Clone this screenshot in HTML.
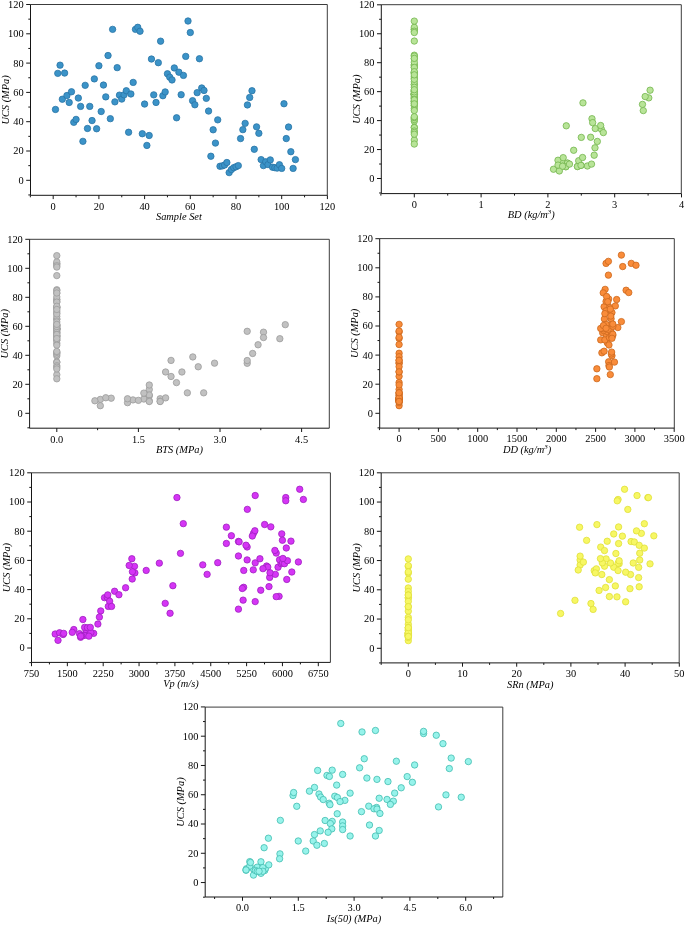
<!DOCTYPE html>
<html><head><meta charset="utf-8"><title>UCS scatter plots</title>
<style>
html,body{margin:0;padding:0;background:#fff;}
svg{display:block;will-change:transform;filter:grayscale(0);}
text{font-family:"Liberation Serif",serif;fill:#000;}
.t{font-size:10.4px;}
.l{font-size:10.4px;font-style:italic;}
</style></head>
<body>
<svg width="685" height="925" viewBox="0 0 685 925">
<rect width="685" height="925" fill="#fff"/>
<g>
<path d="M30.50 4.50 H327.30 V195.30" fill="none" stroke="#3c3c3c" stroke-width="1"/>
<g fill="#3b93c8" stroke="#2a75a6" stroke-width="0.8">
<circle cx="55.48" cy="109.47" r="3.20"/>
<circle cx="57.77" cy="73.36" r="3.20"/>
<circle cx="60.06" cy="65.17" r="3.20"/>
<circle cx="62.34" cy="99.23" r="3.20"/>
<circle cx="64.62" cy="73.06" r="3.20"/>
<circle cx="66.91" cy="95.56" r="3.20"/>
<circle cx="69.20" cy="102.45" r="3.20"/>
<circle cx="71.48" cy="91.77" r="3.20"/>
<circle cx="73.77" cy="122.33" r="3.20"/>
<circle cx="76.05" cy="119.40" r="3.20"/>
<circle cx="78.34" cy="98.05" r="3.20"/>
<circle cx="80.62" cy="106.39" r="3.20"/>
<circle cx="82.91" cy="141.33" r="3.20"/>
<circle cx="85.19" cy="85.34" r="3.20"/>
<circle cx="87.48" cy="128.47" r="3.20"/>
<circle cx="89.76" cy="106.39" r="3.20"/>
<circle cx="92.05" cy="120.57" r="3.20"/>
<circle cx="94.33" cy="78.91" r="3.20"/>
<circle cx="96.62" cy="128.76" r="3.20"/>
<circle cx="98.90" cy="65.75" r="3.20"/>
<circle cx="101.19" cy="111.50" r="3.20"/>
<circle cx="103.47" cy="85.05" r="3.20"/>
<circle cx="105.76" cy="96.88" r="3.20"/>
<circle cx="108.04" cy="55.51" r="3.20"/>
<circle cx="110.33" cy="118.67" r="3.20"/>
<circle cx="112.61" cy="29.35" r="3.20"/>
<circle cx="114.90" cy="101.86" r="3.20"/>
<circle cx="117.18" cy="67.64" r="3.20"/>
<circle cx="119.47" cy="95.14" r="3.20"/>
<circle cx="121.75" cy="99.08" r="3.20"/>
<circle cx="124.04" cy="94.85" r="3.20"/>
<circle cx="126.32" cy="90.74" r="3.20"/>
<circle cx="128.61" cy="132.26" r="3.20"/>
<circle cx="130.89" cy="93.97" r="3.20"/>
<circle cx="133.18" cy="82.41" r="3.20"/>
<circle cx="135.46" cy="29.35" r="3.20"/>
<circle cx="137.75" cy="27.30" r="3.20"/>
<circle cx="140.03" cy="31.24" r="3.20"/>
<circle cx="142.31" cy="133.73" r="3.20"/>
<circle cx="144.60" cy="104.05" r="3.20"/>
<circle cx="146.88" cy="145.43" r="3.20"/>
<circle cx="149.17" cy="135.49" r="3.20"/>
<circle cx="151.46" cy="59.03" r="3.20"/>
<circle cx="153.74" cy="94.85" r="3.20"/>
<circle cx="156.03" cy="102.45" r="3.20"/>
<circle cx="158.31" cy="62.68" r="3.20"/>
<circle cx="160.60" cy="41.18" r="3.20"/>
<circle cx="162.88" cy="95.71" r="3.20"/>
<circle cx="165.17" cy="91.92" r="3.20"/>
<circle cx="167.45" cy="73.78" r="3.20"/>
<circle cx="169.74" cy="77.15" r="3.20"/>
<circle cx="172.02" cy="79.93" r="3.20"/>
<circle cx="174.31" cy="67.93" r="3.20"/>
<circle cx="176.59" cy="117.79" r="3.20"/>
<circle cx="178.88" cy="72.18" r="3.20"/>
<circle cx="181.16" cy="94.70" r="3.20"/>
<circle cx="183.44" cy="75.39" r="3.20"/>
<circle cx="185.73" cy="56.39" r="3.20"/>
<circle cx="188.01" cy="21.01" r="3.20"/>
<circle cx="190.30" cy="32.55" r="3.20"/>
<circle cx="192.59" cy="100.69" r="3.20"/>
<circle cx="194.87" cy="104.78" r="3.20"/>
<circle cx="197.16" cy="92.65" r="3.20"/>
<circle cx="199.44" cy="58.73" r="3.20"/>
<circle cx="201.73" cy="87.98" r="3.20"/>
<circle cx="204.01" cy="90.45" r="3.20"/>
<circle cx="206.30" cy="98.35" r="3.20"/>
<circle cx="208.58" cy="111.06" r="3.20"/>
<circle cx="210.87" cy="156.24" r="3.20"/>
<circle cx="213.15" cy="129.79" r="3.20"/>
<circle cx="215.44" cy="143.09" r="3.20"/>
<circle cx="217.72" cy="119.84" r="3.20"/>
<circle cx="220.00" cy="166.27" r="3.20"/>
<circle cx="222.29" cy="165.90" r="3.20"/>
<circle cx="224.57" cy="165.02" r="3.20"/>
<circle cx="226.86" cy="162.53" r="3.20"/>
<circle cx="229.15" cy="172.62" r="3.20"/>
<circle cx="231.43" cy="169.55" r="3.20"/>
<circle cx="233.72" cy="167.66" r="3.20"/>
<circle cx="236.00" cy="166.78" r="3.20"/>
<circle cx="238.29" cy="165.61" r="3.20"/>
<circle cx="240.57" cy="138.56" r="3.20"/>
<circle cx="242.86" cy="129.64" r="3.20"/>
<circle cx="245.14" cy="123.36" r="3.20"/>
<circle cx="247.43" cy="104.93" r="3.20"/>
<circle cx="249.71" cy="97.47" r="3.20"/>
<circle cx="252.00" cy="90.74" r="3.20"/>
<circle cx="254.28" cy="149.30" r="3.20"/>
<circle cx="256.56" cy="126.86" r="3.20"/>
<circle cx="258.85" cy="133.29" r="3.20"/>
<circle cx="261.13" cy="159.61" r="3.20"/>
<circle cx="263.42" cy="165.61" r="3.20"/>
<circle cx="265.71" cy="161.80" r="3.20"/>
<circle cx="267.99" cy="164.58" r="3.20"/>
<circle cx="270.28" cy="159.91" r="3.20"/>
<circle cx="272.56" cy="167.22" r="3.20"/>
<circle cx="274.85" cy="167.66" r="3.20"/>
<circle cx="277.13" cy="168.10" r="3.20"/>
<circle cx="279.42" cy="164.73" r="3.20"/>
<circle cx="281.70" cy="168.39" r="3.20"/>
<circle cx="283.99" cy="103.75" r="3.20"/>
<circle cx="286.27" cy="138.56" r="3.20"/>
<circle cx="288.56" cy="127.00" r="3.20"/>
<circle cx="290.84" cy="151.72" r="3.20"/>
<circle cx="293.12" cy="168.39" r="3.20"/>
<circle cx="295.41" cy="159.61" r="3.20"/>
</g>
<path d="M30.50 4.50 V195.30 H327.30 M30.50 180.30 h-4.3 M30.50 151.00 h-4.3 M30.50 121.70 h-4.3 M30.50 92.40 h-4.3 M30.50 63.10 h-4.3 M30.50 33.80 h-4.3 M30.50 4.50 h-4.3 M30.50 194.95 h-2.2 M30.50 165.65 h-2.2 M30.50 136.35 h-2.2 M30.50 107.05 h-2.2 M30.50 77.75 h-2.2 M30.50 48.45 h-2.2 M30.50 19.15 h-2.2 M53.20 195.30 v3.8 M98.90 195.30 v3.8 M144.60 195.30 v3.8 M190.30 195.30 v3.8 M236.00 195.30 v3.8 M281.70 195.30 v3.8 M327.40 195.30 v3.8 M30.35 195.30 v2 M76.05 195.30 v2 M121.75 195.30 v2 M167.45 195.30 v2 M213.15 195.30 v2 M258.85 195.30 v2 M304.55 195.30 v2" fill="none" stroke="#161616" stroke-width="1"/>
<g class="t" text-anchor="end">
<text x="23.70" y="183.70">0</text>
<text x="23.70" y="154.40">20</text>
<text x="23.70" y="125.10">40</text>
<text x="23.70" y="95.80">60</text>
<text x="23.70" y="66.50">80</text>
<text x="23.70" y="37.20">100</text>
<text x="23.70" y="7.90">120</text>
</g>
<g class="t" text-anchor="middle">
<text x="53.20" y="209.60">0</text>
<text x="98.90" y="209.60">20</text>
<text x="144.60" y="209.60">40</text>
<text x="190.30" y="209.60">60</text>
<text x="236.00" y="209.60">80</text>
<text x="281.70" y="209.60">100</text>
<text x="327.40" y="209.60">120</text>
</g>
<text class="l" text-anchor="middle" x="178.90" y="219.90">Sample Set</text>
<text class="l" text-anchor="middle" transform="translate(9.20 99.90) rotate(-90)">UCS (MPa)</text>
</g>
<g>
<path d="M381.30 4.70 H681.30 V193.60" fill="none" stroke="#3c3c3c" stroke-width="1"/>
<g fill="#b8e498" stroke="#74b54e" stroke-width="0.8">
<circle cx="414.30" cy="108.51" r="3.20"/>
<circle cx="414.30" cy="72.83" r="3.20"/>
<circle cx="414.30" cy="64.74" r="3.20"/>
<circle cx="414.30" cy="98.40" r="3.20"/>
<circle cx="414.30" cy="72.54" r="3.20"/>
<circle cx="414.30" cy="94.78" r="3.20"/>
<circle cx="414.30" cy="101.58" r="3.20"/>
<circle cx="414.30" cy="91.03" r="3.20"/>
<circle cx="414.30" cy="121.22" r="3.20"/>
<circle cx="414.30" cy="118.33" r="3.20"/>
<circle cx="414.30" cy="97.24" r="3.20"/>
<circle cx="414.30" cy="105.47" r="3.20"/>
<circle cx="414.30" cy="140.00" r="3.20"/>
<circle cx="414.30" cy="84.67" r="3.20"/>
<circle cx="414.30" cy="127.29" r="3.20"/>
<circle cx="414.30" cy="105.47" r="3.20"/>
<circle cx="414.30" cy="119.49" r="3.20"/>
<circle cx="414.30" cy="78.32" r="3.20"/>
<circle cx="414.30" cy="127.58" r="3.20"/>
<circle cx="414.30" cy="65.32" r="3.20"/>
<circle cx="414.30" cy="110.53" r="3.20"/>
<circle cx="414.30" cy="84.38" r="3.20"/>
<circle cx="414.30" cy="96.08" r="3.20"/>
<circle cx="414.30" cy="55.20" r="3.20"/>
<circle cx="414.30" cy="117.60" r="3.20"/>
<circle cx="414.30" cy="29.35" r="3.20"/>
<circle cx="414.30" cy="101.00" r="3.20"/>
<circle cx="414.30" cy="67.19" r="3.20"/>
<circle cx="414.30" cy="94.36" r="3.20"/>
<circle cx="414.30" cy="98.25" r="3.20"/>
<circle cx="414.30" cy="94.07" r="3.20"/>
<circle cx="414.30" cy="90.01" r="3.20"/>
<circle cx="414.30" cy="131.04" r="3.20"/>
<circle cx="414.30" cy="93.20" r="3.20"/>
<circle cx="414.30" cy="81.78" r="3.20"/>
<circle cx="414.30" cy="29.35" r="3.20"/>
<circle cx="414.30" cy="27.32" r="3.20"/>
<circle cx="414.30" cy="31.22" r="3.20"/>
<circle cx="414.30" cy="132.48" r="3.20"/>
<circle cx="414.30" cy="103.16" r="3.20"/>
<circle cx="414.30" cy="144.05" r="3.20"/>
<circle cx="414.30" cy="134.22" r="3.20"/>
<circle cx="414.30" cy="58.68" r="3.20"/>
<circle cx="414.30" cy="94.07" r="3.20"/>
<circle cx="414.30" cy="101.58" r="3.20"/>
<circle cx="414.30" cy="62.28" r="3.20"/>
<circle cx="414.30" cy="41.05" r="3.20"/>
<circle cx="414.30" cy="94.92" r="3.20"/>
<circle cx="414.30" cy="91.17" r="3.20"/>
<circle cx="414.30" cy="73.25" r="3.20"/>
<circle cx="414.30" cy="76.58" r="3.20"/>
<circle cx="414.30" cy="79.33" r="3.20"/>
<circle cx="414.30" cy="67.48" r="3.20"/>
<circle cx="414.30" cy="116.74" r="3.20"/>
<circle cx="414.30" cy="71.67" r="3.20"/>
<circle cx="414.30" cy="93.92" r="3.20"/>
<circle cx="414.30" cy="74.84" r="3.20"/>
<circle cx="414.30" cy="56.07" r="3.20"/>
<circle cx="414.30" cy="21.11" r="3.20"/>
<circle cx="414.30" cy="32.52" r="3.20"/>
<circle cx="414.30" cy="99.84" r="3.20"/>
<circle cx="414.30" cy="103.88" r="3.20"/>
<circle cx="414.30" cy="91.90" r="3.20"/>
<circle cx="414.30" cy="58.39" r="3.20"/>
<circle cx="414.30" cy="87.28" r="3.20"/>
<circle cx="414.30" cy="89.72" r="3.20"/>
<circle cx="648.77" cy="97.87" r="3.20"/>
<circle cx="643.29" cy="110.61" r="3.20"/>
<circle cx="594.19" cy="155.20" r="3.20"/>
<circle cx="595.26" cy="128.56" r="3.20"/>
<circle cx="597.33" cy="141.44" r="3.20"/>
<circle cx="591.99" cy="118.72" r="3.20"/>
<circle cx="562.60" cy="161.78" r="3.20"/>
<circle cx="562.60" cy="166.20" r="3.20"/>
<circle cx="580.97" cy="165.36" r="3.20"/>
<circle cx="577.49" cy="166.49" r="3.20"/>
<circle cx="565.87" cy="166.70" r="3.20"/>
<circle cx="567.47" cy="163.16" r="3.20"/>
<circle cx="557.99" cy="160.26" r="3.20"/>
<circle cx="567.47" cy="163.16" r="3.20"/>
<circle cx="565.87" cy="166.70" r="3.20"/>
<circle cx="577.49" cy="166.49" r="3.20"/>
<circle cx="578.69" cy="160.75" r="3.20"/>
<circle cx="587.38" cy="165.99" r="3.20"/>
<circle cx="553.51" cy="169.24" r="3.20"/>
<circle cx="559.32" cy="170.97" r="3.20"/>
<circle cx="581.30" cy="137.39" r="3.20"/>
<circle cx="601.34" cy="129.14" r="3.20"/>
<circle cx="592.66" cy="122.63" r="3.20"/>
<circle cx="642.49" cy="104.39" r="3.20"/>
<circle cx="645.16" cy="96.57" r="3.20"/>
<circle cx="650.10" cy="90.20" r="3.20"/>
<circle cx="594.99" cy="147.81" r="3.20"/>
<circle cx="566.27" cy="125.81" r="3.20"/>
<circle cx="603.34" cy="132.61" r="3.20"/>
<circle cx="557.99" cy="165.10" r="3.20"/>
<circle cx="580.97" cy="165.36" r="3.20"/>
<circle cx="591.52" cy="164.10" r="3.20"/>
<circle cx="562.60" cy="166.20" r="3.20"/>
<circle cx="569.48" cy="164.10" r="3.20"/>
<circle cx="563.20" cy="157.66" r="3.20"/>
<circle cx="582.57" cy="157.51" r="3.20"/>
<circle cx="582.97" cy="102.87" r="3.20"/>
<circle cx="590.65" cy="137.25" r="3.20"/>
<circle cx="600.67" cy="125.52" r="3.20"/>
<circle cx="573.68" cy="150.27" r="3.20"/>
</g>
<path d="M381.30 4.70 V193.60 H681.30 M381.30 178.50 h-4.3 M381.30 149.55 h-4.3 M381.30 120.60 h-4.3 M381.30 91.65 h-4.3 M381.30 62.70 h-4.3 M381.30 33.75 h-4.3 M381.30 4.80 h-4.3 M381.30 192.97 h-2.2 M381.30 164.03 h-2.2 M381.30 135.07 h-2.2 M381.30 106.12 h-2.2 M381.30 77.17 h-2.2 M381.30 48.22 h-2.2 M381.30 19.28 h-2.2 M414.30 193.60 v3.8 M481.10 193.60 v3.8 M547.90 193.60 v3.8 M614.70 193.60 v3.8 M681.50 193.60 v3.8 M380.90 193.60 v2 M447.70 193.60 v2 M514.50 193.60 v2 M581.30 193.60 v2 M648.10 193.60 v2" fill="none" stroke="#161616" stroke-width="1"/>
<g class="t" text-anchor="end">
<text x="374.50" y="181.90">0</text>
<text x="374.50" y="152.95">20</text>
<text x="374.50" y="124.00">40</text>
<text x="374.50" y="95.05">60</text>
<text x="374.50" y="66.10">80</text>
<text x="374.50" y="37.15">100</text>
<text x="374.50" y="8.20">120</text>
</g>
<g class="t" text-anchor="middle">
<text x="414.30" y="207.90">0</text>
<text x="481.10" y="207.90">1</text>
<text x="547.90" y="207.90">2</text>
<text x="614.70" y="207.90">3</text>
<text x="681.50" y="207.90">4</text>
</g>
<text class="l" text-anchor="middle" x="531.30" y="218.20">BD (kg/m<tspan dy='-3.8' font-size='7'>3</tspan><tspan dy='3.8'>)</tspan></text>
<text class="l" text-anchor="middle" transform="translate(360.00 99.15) rotate(-90)">UCS (MPa)</text>
</g>
<g>
<path d="M29.60 239.30 H329.30 V428.20" fill="none" stroke="#3c3c3c" stroke-width="1"/>
<g fill="#c1c1c1" stroke="#9c9c9c" stroke-width="0.8">
<circle cx="56.80" cy="343.19" r="3.20"/>
<circle cx="56.80" cy="307.45" r="3.20"/>
<circle cx="56.80" cy="299.34" r="3.20"/>
<circle cx="56.80" cy="333.06" r="3.20"/>
<circle cx="56.80" cy="307.16" r="3.20"/>
<circle cx="56.80" cy="329.43" r="3.20"/>
<circle cx="56.80" cy="336.25" r="3.20"/>
<circle cx="56.80" cy="325.68" r="3.20"/>
<circle cx="56.80" cy="355.92" r="3.20"/>
<circle cx="56.80" cy="353.02" r="3.20"/>
<circle cx="56.80" cy="331.90" r="3.20"/>
<circle cx="56.80" cy="340.15" r="3.20"/>
<circle cx="56.80" cy="374.73" r="3.20"/>
<circle cx="56.80" cy="319.31" r="3.20"/>
<circle cx="56.80" cy="362.00" r="3.20"/>
<circle cx="56.80" cy="340.15" r="3.20"/>
<circle cx="56.80" cy="354.18" r="3.20"/>
<circle cx="56.80" cy="312.95" r="3.20"/>
<circle cx="56.80" cy="362.29" r="3.20"/>
<circle cx="56.80" cy="299.92" r="3.20"/>
<circle cx="56.80" cy="345.21" r="3.20"/>
<circle cx="56.80" cy="319.02" r="3.20"/>
<circle cx="56.80" cy="330.74" r="3.20"/>
<circle cx="56.80" cy="289.79" r="3.20"/>
<circle cx="56.80" cy="352.30" r="3.20"/>
<circle cx="56.80" cy="263.89" r="3.20"/>
<circle cx="56.80" cy="335.67" r="3.20"/>
<circle cx="56.80" cy="301.80" r="3.20"/>
<circle cx="56.80" cy="329.01" r="3.20"/>
<circle cx="56.80" cy="332.91" r="3.20"/>
<circle cx="56.80" cy="328.72" r="3.20"/>
<circle cx="56.80" cy="324.66" r="3.20"/>
<circle cx="56.80" cy="365.75" r="3.20"/>
<circle cx="56.80" cy="327.85" r="3.20"/>
<circle cx="56.80" cy="316.41" r="3.20"/>
<circle cx="56.80" cy="263.89" r="3.20"/>
<circle cx="56.80" cy="261.86" r="3.20"/>
<circle cx="56.80" cy="265.76" r="3.20"/>
<circle cx="56.80" cy="367.20" r="3.20"/>
<circle cx="56.80" cy="337.83" r="3.20"/>
<circle cx="56.80" cy="378.79" r="3.20"/>
<circle cx="56.80" cy="368.94" r="3.20"/>
<circle cx="56.80" cy="293.27" r="3.20"/>
<circle cx="56.80" cy="328.72" r="3.20"/>
<circle cx="56.80" cy="336.25" r="3.20"/>
<circle cx="56.80" cy="296.88" r="3.20"/>
<circle cx="56.80" cy="275.61" r="3.20"/>
<circle cx="56.80" cy="329.58" r="3.20"/>
<circle cx="56.80" cy="325.82" r="3.20"/>
<circle cx="56.80" cy="307.87" r="3.20"/>
<circle cx="56.80" cy="311.21" r="3.20"/>
<circle cx="56.80" cy="313.96" r="3.20"/>
<circle cx="56.80" cy="302.09" r="3.20"/>
<circle cx="56.80" cy="351.43" r="3.20"/>
<circle cx="56.80" cy="306.29" r="3.20"/>
<circle cx="56.80" cy="328.58" r="3.20"/>
<circle cx="56.80" cy="309.47" r="3.20"/>
<circle cx="56.80" cy="290.66" r="3.20"/>
<circle cx="56.80" cy="255.64" r="3.20"/>
<circle cx="56.80" cy="267.07" r="3.20"/>
<circle cx="56.80" cy="334.51" r="3.20"/>
<circle cx="56.80" cy="338.55" r="3.20"/>
<circle cx="56.80" cy="326.55" r="3.20"/>
<circle cx="56.80" cy="292.98" r="3.20"/>
<circle cx="56.80" cy="321.92" r="3.20"/>
<circle cx="56.80" cy="324.37" r="3.20"/>
<circle cx="263.52" cy="332.19" r="3.20"/>
<circle cx="258.08" cy="344.77" r="3.20"/>
<circle cx="149.28" cy="389.49" r="3.20"/>
<circle cx="247.20" cy="363.30" r="3.20"/>
<circle cx="171.04" cy="376.47" r="3.20"/>
<circle cx="252.64" cy="353.46" r="3.20"/>
<circle cx="100.32" cy="399.41" r="3.20"/>
<circle cx="143.84" cy="399.05" r="3.20"/>
<circle cx="111.20" cy="398.18" r="3.20"/>
<circle cx="149.28" cy="395.71" r="3.20"/>
<circle cx="100.32" cy="405.70" r="3.20"/>
<circle cx="127.52" cy="402.66" r="3.20"/>
<circle cx="94.88" cy="400.79" r="3.20"/>
<circle cx="132.96" cy="399.92" r="3.20"/>
<circle cx="127.52" cy="398.76" r="3.20"/>
<circle cx="165.60" cy="371.99" r="3.20"/>
<circle cx="214.56" cy="363.16" r="3.20"/>
<circle cx="192.80" cy="356.94" r="3.20"/>
<circle cx="279.84" cy="338.70" r="3.20"/>
<circle cx="247.20" cy="331.32" r="3.20"/>
<circle cx="285.28" cy="324.66" r="3.20"/>
<circle cx="176.48" cy="382.62" r="3.20"/>
<circle cx="171.04" cy="360.40" r="3.20"/>
<circle cx="198.24" cy="366.77" r="3.20"/>
<circle cx="187.36" cy="392.83" r="3.20"/>
<circle cx="160.16" cy="398.76" r="3.20"/>
<circle cx="149.28" cy="394.99" r="3.20"/>
<circle cx="105.76" cy="397.74" r="3.20"/>
<circle cx="143.84" cy="393.12" r="3.20"/>
<circle cx="138.40" cy="400.35" r="3.20"/>
<circle cx="149.28" cy="400.79" r="3.20"/>
<circle cx="160.16" cy="401.22" r="3.20"/>
<circle cx="165.60" cy="397.89" r="3.20"/>
<circle cx="149.28" cy="401.51" r="3.20"/>
<circle cx="263.52" cy="337.54" r="3.20"/>
<circle cx="181.92" cy="371.99" r="3.20"/>
<circle cx="247.20" cy="360.55" r="3.20"/>
<circle cx="149.28" cy="385.01" r="3.20"/>
<circle cx="160.16" cy="401.51" r="3.20"/>
<circle cx="203.68" cy="392.83" r="3.20"/>
</g>
<path d="M29.60 239.30 V428.20 H329.30 M29.60 413.30 h-4.3 M29.60 384.30 h-4.3 M29.60 355.30 h-4.3 M29.60 326.30 h-4.3 M29.60 297.30 h-4.3 M29.60 268.30 h-4.3 M29.60 239.30 h-4.3 M29.60 427.80 h-2.2 M29.60 398.80 h-2.2 M29.60 369.80 h-2.2 M29.60 340.80 h-2.2 M29.60 311.80 h-2.2 M29.60 282.80 h-2.2 M29.60 253.80 h-2.2 M56.80 428.20 v3.8 M138.40 428.20 v3.8 M220.00 428.20 v3.8 M301.60 428.20 v3.8 M97.60 428.20 v2 M179.20 428.20 v2 M260.80 428.20 v2" fill="none" stroke="#161616" stroke-width="1"/>
<g class="t" text-anchor="end">
<text x="22.80" y="416.70">0</text>
<text x="22.80" y="387.70">20</text>
<text x="22.80" y="358.70">40</text>
<text x="22.80" y="329.70">60</text>
<text x="22.80" y="300.70">80</text>
<text x="22.80" y="271.70">100</text>
<text x="22.80" y="242.70">120</text>
</g>
<g class="t" text-anchor="middle">
<text x="56.80" y="442.50">0.0</text>
<text x="138.40" y="442.50">1.5</text>
<text x="220.00" y="442.50">3.0</text>
<text x="301.60" y="442.50">4.5</text>
</g>
<text class="l" text-anchor="middle" x="179.45" y="452.80">BTS (MPa)</text>
<text class="l" text-anchor="middle" transform="translate(8.30 333.75) rotate(-90)">UCS (MPa)</text>
</g>
<g>
<path d="M379.70 238.60 H674.30 V428.10" fill="none" stroke="#3c3c3c" stroke-width="1"/>
<g fill="#f98c3a" stroke="#cc681e" stroke-width="0.8">
<circle cx="607.39" cy="342.95" r="3.20"/>
<circle cx="607.78" cy="307.09" r="3.20"/>
<circle cx="608.65" cy="298.95" r="3.20"/>
<circle cx="602.67" cy="332.78" r="3.20"/>
<circle cx="604.09" cy="306.79" r="3.20"/>
<circle cx="605.03" cy="329.14" r="3.20"/>
<circle cx="606.60" cy="335.98" r="3.20"/>
<circle cx="608.57" cy="325.37" r="3.20"/>
<circle cx="611.95" cy="355.73" r="3.20"/>
<circle cx="601.89" cy="352.82" r="3.20"/>
<circle cx="607.39" cy="331.62" r="3.20"/>
<circle cx="600.71" cy="339.90" r="3.20"/>
<circle cx="610.30" cy="374.60" r="3.20"/>
<circle cx="604.40" cy="318.99" r="3.20"/>
<circle cx="608.65" cy="361.82" r="3.20"/>
<circle cx="604.87" cy="339.90" r="3.20"/>
<circle cx="611.32" cy="353.98" r="3.20"/>
<circle cx="611.95" cy="312.60" r="3.20"/>
<circle cx="614.46" cy="362.11" r="3.20"/>
<circle cx="616.66" cy="299.53" r="3.20"/>
<circle cx="608.96" cy="344.97" r="3.20"/>
<circle cx="611.08" cy="318.70" r="3.20"/>
<circle cx="603.54" cy="330.45" r="3.20"/>
<circle cx="605.11" cy="289.36" r="3.20"/>
<circle cx="611.63" cy="352.09" r="3.20"/>
<circle cx="606.05" cy="263.38" r="3.20"/>
<circle cx="612.81" cy="335.40" r="3.20"/>
<circle cx="606.05" cy="301.41" r="3.20"/>
<circle cx="603.46" cy="328.72" r="3.20"/>
<circle cx="611.32" cy="332.63" r="3.20"/>
<circle cx="600.71" cy="328.43" r="3.20"/>
<circle cx="606.05" cy="324.36" r="3.20"/>
<circle cx="608.96" cy="365.59" r="3.20"/>
<circle cx="617.84" cy="327.56" r="3.20"/>
<circle cx="610.77" cy="316.08" r="3.20"/>
<circle cx="631.28" cy="263.38" r="3.20"/>
<circle cx="608.41" cy="261.34" r="3.20"/>
<circle cx="636.00" cy="265.25" r="3.20"/>
<circle cx="609.36" cy="367.05" r="3.20"/>
<circle cx="609.36" cy="337.57" r="3.20"/>
<circle cx="596.86" cy="378.67" r="3.20"/>
<circle cx="596.86" cy="368.79" r="3.20"/>
<circle cx="603.22" cy="292.86" r="3.20"/>
<circle cx="611.08" cy="328.43" r="3.20"/>
<circle cx="611.32" cy="335.98" r="3.20"/>
<circle cx="606.60" cy="296.48" r="3.20"/>
<circle cx="608.41" cy="275.13" r="3.20"/>
<circle cx="608.18" cy="329.29" r="3.20"/>
<circle cx="603.46" cy="325.52" r="3.20"/>
<circle cx="609.75" cy="307.51" r="3.20"/>
<circle cx="606.05" cy="310.85" r="3.20"/>
<circle cx="604.87" cy="313.62" r="3.20"/>
<circle cx="607.78" cy="301.70" r="3.20"/>
<circle cx="604.09" cy="351.22" r="3.20"/>
<circle cx="615.33" cy="305.92" r="3.20"/>
<circle cx="606.05" cy="328.28" r="3.20"/>
<circle cx="610.30" cy="309.11" r="3.20"/>
<circle cx="626.10" cy="290.24" r="3.20"/>
<circle cx="621.38" cy="255.10" r="3.20"/>
<circle cx="622.72" cy="266.56" r="3.20"/>
<circle cx="612.81" cy="334.24" r="3.20"/>
<circle cx="611.95" cy="338.29" r="3.20"/>
<circle cx="612.89" cy="326.25" r="3.20"/>
<circle cx="628.77" cy="292.56" r="3.20"/>
<circle cx="621.38" cy="321.61" r="3.20"/>
<circle cx="612.81" cy="324.06" r="3.20"/>
<circle cx="399.10" cy="331.91" r="3.20"/>
<circle cx="399.10" cy="344.54" r="3.20"/>
<circle cx="399.10" cy="389.41" r="3.20"/>
<circle cx="399.10" cy="363.13" r="3.20"/>
<circle cx="399.10" cy="376.34" r="3.20"/>
<circle cx="399.10" cy="353.25" r="3.20"/>
<circle cx="399.10" cy="399.36" r="3.20"/>
<circle cx="399.10" cy="399.00" r="3.20"/>
<circle cx="399.10" cy="398.12" r="3.20"/>
<circle cx="399.10" cy="395.65" r="3.20"/>
<circle cx="399.10" cy="405.68" r="3.20"/>
<circle cx="399.10" cy="402.62" r="3.20"/>
<circle cx="399.10" cy="400.74" r="3.20"/>
<circle cx="399.10" cy="399.87" r="3.20"/>
<circle cx="399.10" cy="398.71" r="3.20"/>
<circle cx="399.10" cy="371.85" r="3.20"/>
<circle cx="399.10" cy="362.99" r="3.20"/>
<circle cx="399.10" cy="356.74" r="3.20"/>
<circle cx="399.10" cy="338.44" r="3.20"/>
<circle cx="399.10" cy="331.03" r="3.20"/>
<circle cx="399.10" cy="324.36" r="3.20"/>
<circle cx="399.10" cy="382.51" r="3.20"/>
<circle cx="399.10" cy="360.22" r="3.20"/>
<circle cx="399.10" cy="366.61" r="3.20"/>
<circle cx="399.10" cy="392.76" r="3.20"/>
<circle cx="399.10" cy="398.71" r="3.20"/>
<circle cx="399.10" cy="394.92" r="3.20"/>
<circle cx="399.10" cy="397.69" r="3.20"/>
<circle cx="399.10" cy="393.05" r="3.20"/>
<circle cx="399.10" cy="400.31" r="3.20"/>
<circle cx="399.10" cy="400.74" r="3.20"/>
<circle cx="399.10" cy="401.18" r="3.20"/>
<circle cx="399.10" cy="397.83" r="3.20"/>
<circle cx="399.10" cy="401.47" r="3.20"/>
<circle cx="399.10" cy="337.28" r="3.20"/>
<circle cx="399.10" cy="371.85" r="3.20"/>
<circle cx="399.10" cy="360.37" r="3.20"/>
<circle cx="399.10" cy="384.91" r="3.20"/>
<circle cx="399.10" cy="401.47" r="3.20"/>
<circle cx="399.10" cy="392.76" r="3.20"/>
</g>
<path d="M379.70 238.60 V428.10 H674.30 M379.70 413.30 h-4.3 M379.70 384.20 h-4.3 M379.70 355.10 h-4.3 M379.70 326.00 h-4.3 M379.70 296.90 h-4.3 M379.70 267.80 h-4.3 M379.70 238.70 h-4.3 M379.70 427.85 h-2.2 M379.70 398.75 h-2.2 M379.70 369.65 h-2.2 M379.70 340.55 h-2.2 M379.70 311.45 h-2.2 M379.70 282.35 h-2.2 M379.70 253.25 h-2.2 M399.10 428.10 v3.8 M438.40 428.10 v3.8 M477.70 428.10 v3.8 M517.00 428.10 v3.8 M556.30 428.10 v3.8 M595.60 428.10 v3.8 M634.90 428.10 v3.8 M674.20 428.10 v3.8 M379.45 428.10 v2 M418.75 428.10 v2 M458.05 428.10 v2 M497.35 428.10 v2 M536.65 428.10 v2 M575.95 428.10 v2 M615.25 428.10 v2 M654.55 428.10 v2" fill="none" stroke="#161616" stroke-width="1"/>
<g class="t" text-anchor="end">
<text x="372.90" y="416.70">0</text>
<text x="372.90" y="387.60">20</text>
<text x="372.90" y="358.50">40</text>
<text x="372.90" y="329.40">60</text>
<text x="372.90" y="300.30">80</text>
<text x="372.90" y="271.20">100</text>
<text x="372.90" y="242.10">120</text>
</g>
<g class="t" text-anchor="middle">
<text x="399.10" y="442.40">0</text>
<text x="438.40" y="442.40">500</text>
<text x="477.70" y="442.40">1000</text>
<text x="517.00" y="442.40">1500</text>
<text x="556.30" y="442.40">2000</text>
<text x="595.60" y="442.40">2500</text>
<text x="634.90" y="442.40">3000</text>
<text x="674.20" y="442.40">3500</text>
</g>
<text class="l" text-anchor="middle" x="527.00" y="452.70">DD (kg/m<tspan dy='-3.8' font-size='7'>3</tspan><tspan dy='3.8'>)</tspan></text>
<text class="l" text-anchor="middle" transform="translate(358.40 333.35) rotate(-90)">UCS (MPa)</text>
</g>
<g>
<path d="M31.50 472.80 H330.40 V662.40" fill="none" stroke="#3c3c3c" stroke-width="1"/>
<g fill="#d535f5" stroke="#a01fc0" stroke-width="0.8">
<circle cx="269.67" cy="577.41" r="3.20"/>
<circle cx="238.44" cy="541.42" r="3.20"/>
<circle cx="253.53" cy="533.26" r="3.20"/>
<circle cx="278.03" cy="567.20" r="3.20"/>
<circle cx="290.97" cy="541.13" r="3.20"/>
<circle cx="281.13" cy="563.55" r="3.20"/>
<circle cx="146.19" cy="570.42" r="3.20"/>
<circle cx="279.56" cy="559.77" r="3.20"/>
<circle cx="260.74" cy="590.23" r="3.20"/>
<circle cx="243.65" cy="587.31" r="3.20"/>
<circle cx="266.62" cy="566.04" r="3.20"/>
<circle cx="207.12" cy="574.34" r="3.20"/>
<circle cx="238.44" cy="609.16" r="3.20"/>
<circle cx="180.48" cy="553.36" r="3.20"/>
<circle cx="279.08" cy="596.35" r="3.20"/>
<circle cx="275.35" cy="574.34" r="3.20"/>
<circle cx="242.31" cy="588.48" r="3.20"/>
<circle cx="247.13" cy="546.95" r="3.20"/>
<circle cx="276.21" cy="596.64" r="3.20"/>
<circle cx="281.75" cy="533.84" r="3.20"/>
<circle cx="286.77" cy="579.44" r="3.20"/>
<circle cx="276.21" cy="553.07" r="3.20"/>
<circle cx="202.77" cy="564.87" r="3.20"/>
<circle cx="183.29" cy="523.64" r="3.20"/>
<circle cx="269.00" cy="586.58" r="3.20"/>
<circle cx="176.94" cy="497.56" r="3.20"/>
<circle cx="253.29" cy="569.83" r="3.20"/>
<circle cx="231.38" cy="535.73" r="3.20"/>
<circle cx="159.32" cy="563.13" r="3.20"/>
<circle cx="267.76" cy="567.06" r="3.20"/>
<circle cx="255.20" cy="562.84" r="3.20"/>
<circle cx="259.93" cy="558.75" r="3.20"/>
<circle cx="243.12" cy="600.13" r="3.20"/>
<circle cx="298.37" cy="561.96" r="3.20"/>
<circle cx="274.88" cy="550.44" r="3.20"/>
<circle cx="285.76" cy="497.56" r="3.20"/>
<circle cx="255.20" cy="495.52" r="3.20"/>
<circle cx="303.38" cy="499.44" r="3.20"/>
<circle cx="255.20" cy="601.59" r="3.20"/>
<circle cx="291.83" cy="572.01" r="3.20"/>
<circle cx="170.07" cy="613.25" r="3.20"/>
<circle cx="165.20" cy="603.34" r="3.20"/>
<circle cx="226.36" cy="527.14" r="3.20"/>
<circle cx="282.56" cy="562.84" r="3.20"/>
<circle cx="243.74" cy="570.42" r="3.20"/>
<circle cx="254.87" cy="530.78" r="3.20"/>
<circle cx="247.33" cy="509.36" r="3.20"/>
<circle cx="284.48" cy="563.70" r="3.20"/>
<circle cx="247.13" cy="559.92" r="3.20"/>
<circle cx="239.11" cy="541.84" r="3.20"/>
<circle cx="245.99" cy="545.20" r="3.20"/>
<circle cx="286.29" cy="547.98" r="3.20"/>
<circle cx="252.34" cy="536.02" r="3.20"/>
<circle cx="172.88" cy="585.70" r="3.20"/>
<circle cx="282.42" cy="540.25" r="3.20"/>
<circle cx="217.72" cy="562.69" r="3.20"/>
<circle cx="226.36" cy="543.45" r="3.20"/>
<circle cx="264.61" cy="524.51" r="3.20"/>
<circle cx="299.71" cy="489.25" r="3.20"/>
<circle cx="285.76" cy="500.76" r="3.20"/>
<circle cx="262.94" cy="568.66" r="3.20"/>
<circle cx="270.01" cy="572.74" r="3.20"/>
<circle cx="287.44" cy="560.65" r="3.20"/>
<circle cx="270.82" cy="526.85" r="3.20"/>
<circle cx="238.44" cy="555.99" r="3.20"/>
<circle cx="282.90" cy="558.46" r="3.20"/>
<circle cx="134.49" cy="566.33" r="3.20"/>
<circle cx="132.22" cy="579.00" r="3.20"/>
<circle cx="97.89" cy="624.03" r="3.20"/>
<circle cx="104.51" cy="597.66" r="3.20"/>
<circle cx="100.74" cy="610.92" r="3.20"/>
<circle cx="125.61" cy="587.75" r="3.20"/>
<circle cx="55.17" cy="634.01" r="3.20"/>
<circle cx="79.50" cy="633.65" r="3.20"/>
<circle cx="59.56" cy="632.77" r="3.20"/>
<circle cx="86.11" cy="630.29" r="3.20"/>
<circle cx="58.01" cy="640.35" r="3.20"/>
<circle cx="80.61" cy="637.28" r="3.20"/>
<circle cx="83.27" cy="635.40" r="3.20"/>
<circle cx="63.13" cy="634.52" r="3.20"/>
<circle cx="93.69" cy="633.36" r="3.20"/>
<circle cx="108.32" cy="606.40" r="3.20"/>
<circle cx="107.36" cy="597.51" r="3.20"/>
<circle cx="114.60" cy="591.25" r="3.20"/>
<circle cx="134.88" cy="572.88" r="3.20"/>
<circle cx="129.18" cy="565.45" r="3.20"/>
<circle cx="131.84" cy="558.75" r="3.20"/>
<circle cx="99.39" cy="617.11" r="3.20"/>
<circle cx="118.94" cy="594.74" r="3.20"/>
<circle cx="109.63" cy="601.15" r="3.20"/>
<circle cx="84.62" cy="627.38" r="3.20"/>
<circle cx="63.71" cy="633.36" r="3.20"/>
<circle cx="73.80" cy="629.56" r="3.20"/>
<circle cx="72.26" cy="632.33" r="3.20"/>
<circle cx="87.47" cy="627.68" r="3.20"/>
<circle cx="88.38" cy="634.96" r="3.20"/>
<circle cx="84.04" cy="635.40" r="3.20"/>
<circle cx="81.62" cy="635.84" r="3.20"/>
<circle cx="90.85" cy="632.48" r="3.20"/>
<circle cx="88.87" cy="636.13" r="3.20"/>
<circle cx="132.41" cy="571.72" r="3.20"/>
<circle cx="111.56" cy="606.40" r="3.20"/>
<circle cx="107.74" cy="594.89" r="3.20"/>
<circle cx="82.88" cy="619.52" r="3.20"/>
<circle cx="80.66" cy="636.13" r="3.20"/>
<circle cx="90.31" cy="627.38" r="3.20"/>
</g>
<path d="M31.50 472.80 V662.40 H330.40 M31.50 648.00 h-4.3 M31.50 618.80 h-4.3 M31.50 589.60 h-4.3 M31.50 560.40 h-4.3 M31.50 531.20 h-4.3 M31.50 502.00 h-4.3 M31.50 472.80 h-4.3 M31.50 662.60 h-2.2 M31.50 633.40 h-2.2 M31.50 604.20 h-2.2 M31.50 575.00 h-2.2 M31.50 545.80 h-2.2 M31.50 516.60 h-2.2 M31.50 487.40 h-2.2 M31.50 662.40 v3.8 M67.35 662.40 v3.8 M103.20 662.40 v3.8 M139.05 662.40 v3.8 M174.90 662.40 v3.8 M210.75 662.40 v3.8 M246.60 662.40 v3.8 M282.45 662.40 v3.8 M318.30 662.40 v3.8 M49.43 662.40 v2 M85.28 662.40 v2 M121.12 662.40 v2 M156.98 662.40 v2 M192.83 662.40 v2 M228.68 662.40 v2 M264.52 662.40 v2 M300.38 662.40 v2" fill="none" stroke="#161616" stroke-width="1"/>
<g class="t" text-anchor="end">
<text x="24.70" y="651.40">0</text>
<text x="24.70" y="622.20">20</text>
<text x="24.70" y="593.00">40</text>
<text x="24.70" y="563.80">60</text>
<text x="24.70" y="534.60">80</text>
<text x="24.70" y="505.40">100</text>
<text x="24.70" y="476.20">120</text>
</g>
<g class="t" text-anchor="middle">
<text x="31.50" y="676.70">750</text>
<text x="67.35" y="676.70">1500</text>
<text x="103.20" y="676.70">2250</text>
<text x="139.05" y="676.70">3000</text>
<text x="174.90" y="676.70">3750</text>
<text x="210.75" y="676.70">4500</text>
<text x="246.60" y="676.70">5250</text>
<text x="282.45" y="676.70">6000</text>
<text x="318.30" y="676.70">6750</text>
</g>
<text class="l" text-anchor="middle" x="180.95" y="687.00">Vp (m/s)</text>
<text class="l" text-anchor="middle" transform="translate(10.20 567.60) rotate(-90)">UCS (MPa)</text>
</g>
<g>
<path d="M381.20 472.80 H679.20 V662.90" fill="none" stroke="#3c3c3c" stroke-width="1"/>
<g fill="#f7f764" stroke="#e0e03a" stroke-width="0.8">
<circle cx="638.65" cy="577.59" r="3.20"/>
<circle cx="631.06" cy="541.54" r="3.20"/>
<circle cx="641.36" cy="533.36" r="3.20"/>
<circle cx="638.65" cy="567.37" r="3.20"/>
<circle cx="607.21" cy="541.25" r="3.20"/>
<circle cx="619.14" cy="563.71" r="3.20"/>
<circle cx="594.21" cy="570.58" r="3.20"/>
<circle cx="580.11" cy="559.92" r="3.20"/>
<circle cx="599.08" cy="590.43" r="3.20"/>
<circle cx="605.59" cy="587.50" r="3.20"/>
<circle cx="604.50" cy="566.20" r="3.20"/>
<circle cx="601.79" cy="574.52" r="3.20"/>
<circle cx="593.12" cy="609.40" r="3.20"/>
<circle cx="615.89" cy="553.50" r="3.20"/>
<circle cx="609.38" cy="596.56" r="3.20"/>
<circle cx="630.52" cy="574.52" r="3.20"/>
<circle cx="629.98" cy="588.67" r="3.20"/>
<circle cx="600.71" cy="547.08" r="3.20"/>
<circle cx="616.97" cy="596.85" r="3.20"/>
<circle cx="613.72" cy="533.95" r="3.20"/>
<circle cx="609.38" cy="579.62" r="3.20"/>
<circle cx="639.73" cy="553.21" r="3.20"/>
<circle cx="580.11" cy="565.03" r="3.20"/>
<circle cx="644.34" cy="523.72" r="3.20"/>
<circle cx="639.19" cy="586.77" r="3.20"/>
<circle cx="647.86" cy="497.60" r="3.20"/>
<circle cx="578.22" cy="570.00" r="3.20"/>
<circle cx="653.83" cy="535.83" r="3.20"/>
<circle cx="618.05" cy="563.28" r="3.20"/>
<circle cx="613.72" cy="567.22" r="3.20"/>
<circle cx="610.47" cy="562.99" r="3.20"/>
<circle cx="606.13" cy="558.90" r="3.20"/>
<circle cx="574.97" cy="600.34" r="3.20"/>
<circle cx="583.37" cy="562.11" r="3.20"/>
<circle cx="604.50" cy="550.58" r="3.20"/>
<circle cx="648.41" cy="497.60" r="3.20"/>
<circle cx="637.02" cy="495.56" r="3.20"/>
<circle cx="618.05" cy="499.49" r="3.20"/>
<circle cx="625.64" cy="601.81" r="3.20"/>
<circle cx="625.64" cy="572.18" r="3.20"/>
<circle cx="560.60" cy="613.49" r="3.20"/>
<circle cx="590.95" cy="603.56" r="3.20"/>
<circle cx="579.57" cy="527.23" r="3.20"/>
<circle cx="633.23" cy="562.99" r="3.20"/>
<circle cx="618.05" cy="570.58" r="3.20"/>
<circle cx="636.48" cy="530.88" r="3.20"/>
<circle cx="627.81" cy="509.42" r="3.20"/>
<circle cx="650.03" cy="563.86" r="3.20"/>
<circle cx="639.73" cy="560.07" r="3.20"/>
<circle cx="634.31" cy="541.96" r="3.20"/>
<circle cx="639.19" cy="545.33" r="3.20"/>
<circle cx="644.34" cy="548.10" r="3.20"/>
<circle cx="622.39" cy="536.13" r="3.20"/>
<circle cx="615.34" cy="585.90" r="3.20"/>
<circle cx="586.62" cy="540.37" r="3.20"/>
<circle cx="602.34" cy="562.85" r="3.20"/>
<circle cx="618.60" cy="543.57" r="3.20"/>
<circle cx="596.92" cy="524.60" r="3.20"/>
<circle cx="624.56" cy="489.28" r="3.20"/>
<circle cx="617.24" cy="500.81" r="3.20"/>
<circle cx="596.37" cy="568.83" r="3.20"/>
<circle cx="595.29" cy="572.91" r="3.20"/>
<circle cx="619.14" cy="560.80" r="3.20"/>
<circle cx="618.60" cy="526.94" r="3.20"/>
<circle cx="580.11" cy="556.13" r="3.20"/>
<circle cx="600.44" cy="558.60" r="3.20"/>
<circle cx="408.30" cy="566.49" r="3.20"/>
<circle cx="408.30" cy="579.18" r="3.20"/>
<circle cx="408.30" cy="624.29" r="3.20"/>
<circle cx="408.30" cy="597.87" r="3.20"/>
<circle cx="408.30" cy="611.15" r="3.20"/>
<circle cx="408.30" cy="587.94" r="3.20"/>
<circle cx="408.30" cy="634.29" r="3.20"/>
<circle cx="408.30" cy="633.92" r="3.20"/>
<circle cx="408.30" cy="633.05" r="3.20"/>
<circle cx="408.30" cy="630.56" r="3.20"/>
<circle cx="408.30" cy="640.64" r="3.20"/>
<circle cx="408.30" cy="637.57" r="3.20"/>
<circle cx="408.30" cy="635.68" r="3.20"/>
<circle cx="408.30" cy="634.80" r="3.20"/>
<circle cx="408.30" cy="633.63" r="3.20"/>
<circle cx="408.30" cy="606.63" r="3.20"/>
<circle cx="408.30" cy="597.73" r="3.20"/>
<circle cx="408.30" cy="591.45" r="3.20"/>
<circle cx="408.30" cy="573.05" r="3.20"/>
<circle cx="408.30" cy="565.61" r="3.20"/>
<circle cx="408.30" cy="558.90" r="3.20"/>
<circle cx="408.30" cy="617.35" r="3.20"/>
<circle cx="408.30" cy="594.95" r="3.20"/>
<circle cx="408.30" cy="601.37" r="3.20"/>
<circle cx="408.30" cy="627.65" r="3.20"/>
<circle cx="408.30" cy="633.63" r="3.20"/>
<circle cx="408.30" cy="629.83" r="3.20"/>
<circle cx="408.30" cy="632.61" r="3.20"/>
<circle cx="408.30" cy="627.94" r="3.20"/>
<circle cx="408.30" cy="635.24" r="3.20"/>
<circle cx="408.30" cy="635.68" r="3.20"/>
<circle cx="408.30" cy="636.12" r="3.20"/>
<circle cx="408.30" cy="632.75" r="3.20"/>
<circle cx="408.30" cy="636.41" r="3.20"/>
<circle cx="408.30" cy="571.88" r="3.20"/>
<circle cx="408.30" cy="606.63" r="3.20"/>
<circle cx="408.30" cy="595.09" r="3.20"/>
<circle cx="408.30" cy="619.77" r="3.20"/>
<circle cx="408.30" cy="636.41" r="3.20"/>
<circle cx="408.30" cy="627.65" r="3.20"/>
</g>
<path d="M381.20 472.80 V662.90 H679.20 M381.20 648.30 h-4.3 M381.20 619.05 h-4.3 M381.20 589.80 h-4.3 M381.20 560.55 h-4.3 M381.20 531.30 h-4.3 M381.20 502.05 h-4.3 M381.20 472.80 h-4.3 M381.20 662.92 h-2.2 M381.20 633.67 h-2.2 M381.20 604.42 h-2.2 M381.20 575.17 h-2.2 M381.20 545.92 h-2.2 M381.20 516.67 h-2.2 M381.20 487.42 h-2.2 M408.30 662.90 v3.8 M462.50 662.90 v3.8 M516.70 662.90 v3.8 M570.90 662.90 v3.8 M625.10 662.90 v3.8 M679.30 662.90 v3.8 M381.20 662.90 v2 M435.40 662.90 v2 M489.60 662.90 v2 M543.80 662.90 v2 M598.00 662.90 v2 M652.20 662.90 v2" fill="none" stroke="#161616" stroke-width="1"/>
<g class="t" text-anchor="end">
<text x="374.40" y="651.70">0</text>
<text x="374.40" y="622.45">20</text>
<text x="374.40" y="593.20">40</text>
<text x="374.40" y="563.95">60</text>
<text x="374.40" y="534.70">80</text>
<text x="374.40" y="505.45">100</text>
<text x="374.40" y="476.20">120</text>
</g>
<g class="t" text-anchor="middle">
<text x="408.30" y="677.20">0</text>
<text x="462.50" y="677.20">10</text>
<text x="516.70" y="677.20">20</text>
<text x="570.90" y="677.20">30</text>
<text x="625.10" y="677.20">40</text>
<text x="679.30" y="677.20">50</text>
</g>
<text class="l" text-anchor="middle" x="530.20" y="687.50">SRn (MPa)</text>
<text class="l" text-anchor="middle" transform="translate(359.90 567.85) rotate(-90)">UCS (MPa)</text>
</g>
<g>
<path d="M205.20 707.10 H502.80 V897.00" fill="none" stroke="#3c3c3c" stroke-width="1"/>
<g fill="#97f3eb" stroke="#43bdb0" stroke-width="0.8">
<circle cx="340.77" cy="723.47" r="3.20"/>
<circle cx="362.03" cy="731.96" r="3.20"/>
<circle cx="375.46" cy="730.49" r="3.20"/>
<circle cx="423.58" cy="733.57" r="3.20"/>
<circle cx="423.58" cy="731.37" r="3.20"/>
<circle cx="436.26" cy="735.25" r="3.20"/>
<circle cx="442.97" cy="743.66" r="3.20"/>
<circle cx="451.18" cy="758.08" r="3.20"/>
<circle cx="364.27" cy="758.74" r="3.20"/>
<circle cx="396.35" cy="761.23" r="3.20"/>
<circle cx="468.34" cy="761.59" r="3.20"/>
<circle cx="414.63" cy="764.96" r="3.20"/>
<circle cx="359.61" cy="767.81" r="3.20"/>
<circle cx="449.31" cy="768.54" r="3.20"/>
<circle cx="317.65" cy="770.45" r="3.20"/>
<circle cx="332.19" cy="770.15" r="3.20"/>
<circle cx="342.64" cy="774.40" r="3.20"/>
<circle cx="326.97" cy="775.42" r="3.20"/>
<circle cx="329.40" cy="776.45" r="3.20"/>
<circle cx="407.17" cy="776.59" r="3.20"/>
<circle cx="366.88" cy="778.06" r="3.20"/>
<circle cx="376.95" cy="779.37" r="3.20"/>
<circle cx="387.96" cy="781.57" r="3.20"/>
<circle cx="412.39" cy="782.30" r="3.20"/>
<circle cx="336.67" cy="785.08" r="3.20"/>
<circle cx="314.48" cy="787.42" r="3.20"/>
<circle cx="401.20" cy="787.79" r="3.20"/>
<circle cx="309.44" cy="791.15" r="3.20"/>
<circle cx="293.03" cy="795.47" r="3.20"/>
<circle cx="293.66" cy="792.54" r="3.20"/>
<circle cx="394.67" cy="793.13" r="3.20"/>
<circle cx="350.10" cy="793.13" r="3.20"/>
<circle cx="318.99" cy="794.01" r="3.20"/>
<circle cx="445.96" cy="794.89" r="3.20"/>
<circle cx="334.80" cy="796.20" r="3.20"/>
<circle cx="320.63" cy="797.08" r="3.20"/>
<circle cx="461.25" cy="797.23" r="3.20"/>
<circle cx="337.41" cy="797.52" r="3.20"/>
<circle cx="379.19" cy="798.25" r="3.20"/>
<circle cx="323.24" cy="799.57" r="3.20"/>
<circle cx="387.02" cy="799.42" r="3.20"/>
<circle cx="344.88" cy="800.37" r="3.20"/>
<circle cx="393.37" cy="801.18" r="3.20"/>
<circle cx="340.03" cy="801.62" r="3.20"/>
<circle cx="329.21" cy="803.23" r="3.20"/>
<circle cx="390.38" cy="804.40" r="3.20"/>
<circle cx="329.96" cy="804.69" r="3.20"/>
<circle cx="368.75" cy="806.16" r="3.20"/>
<circle cx="296.76" cy="806.30" r="3.20"/>
<circle cx="438.50" cy="806.89" r="3.20"/>
<circle cx="376.58" cy="807.47" r="3.20"/>
<circle cx="373.97" cy="808.79" r="3.20"/>
<circle cx="376.95" cy="809.08" r="3.20"/>
<circle cx="361.47" cy="811.64" r="3.20"/>
<circle cx="379.94" cy="813.47" r="3.20"/>
<circle cx="337.23" cy="813.77" r="3.20"/>
<circle cx="280.35" cy="820.35" r="3.20"/>
<circle cx="325.11" cy="820.50" r="3.20"/>
<circle cx="332.19" cy="821.38" r="3.20"/>
<circle cx="342.64" cy="822.03" r="3.20"/>
<circle cx="330.33" cy="823.57" r="3.20"/>
<circle cx="369.49" cy="825.03" r="3.20"/>
<circle cx="342.64" cy="825.91" r="3.20"/>
<circle cx="331.82" cy="828.91" r="3.20"/>
<circle cx="342.64" cy="829.57" r="3.20"/>
<circle cx="379.19" cy="830.45" r="3.20"/>
<circle cx="320.26" cy="830.89" r="3.20"/>
<circle cx="328.09" cy="832.28" r="3.20"/>
<circle cx="314.48" cy="834.55" r="3.20"/>
<circle cx="350.10" cy="836.01" r="3.20"/>
<circle cx="375.46" cy="836.01" r="3.20"/>
<circle cx="268.41" cy="838.21" r="3.20"/>
<circle cx="298.25" cy="840.99" r="3.20"/>
<circle cx="313.17" cy="840.99" r="3.20"/>
<circle cx="324.36" cy="843.47" r="3.20"/>
<circle cx="316.90" cy="845.23" r="3.20"/>
<circle cx="264.12" cy="847.72" r="3.20"/>
<circle cx="305.71" cy="851.08" r="3.20"/>
<circle cx="279.97" cy="853.87" r="3.20"/>
<circle cx="279.60" cy="858.77" r="3.20"/>
<circle cx="253.49" cy="869.16" r="3.20"/>
<circle cx="246.40" cy="868.79" r="3.20"/>
<circle cx="260.95" cy="867.91" r="3.20"/>
<circle cx="249.76" cy="866.16" r="3.20"/>
<circle cx="253.49" cy="875.09" r="3.20"/>
<circle cx="260.95" cy="873.33" r="3.20"/>
<circle cx="264.68" cy="870.55" r="3.20"/>
<circle cx="246.03" cy="870.18" r="3.20"/>
<circle cx="265.43" cy="868.50" r="3.20"/>
<circle cx="249.76" cy="861.62" r="3.20"/>
<circle cx="257.22" cy="868.50" r="3.20"/>
<circle cx="268.78" cy="864.84" r="3.20"/>
<circle cx="257.22" cy="867.18" r="3.20"/>
<circle cx="260.95" cy="861.77" r="3.20"/>
<circle cx="246.03" cy="869.96" r="3.20"/>
<circle cx="255.36" cy="870.55" r="3.20"/>
<circle cx="257.22" cy="871.35" r="3.20"/>
<circle cx="262.81" cy="867.62" r="3.20"/>
<circle cx="262.81" cy="871.28" r="3.20"/>
<circle cx="259.09" cy="871.28" r="3.20"/>
<circle cx="250.51" cy="862.50" r="3.20"/>
</g>
<path d="M205.20 707.10 V897.00 H502.80 M205.20 882.55 h-4.3 M205.20 853.28 h-4.3 M205.20 824.01 h-4.3 M205.20 794.74 h-4.3 M205.20 765.47 h-4.3 M205.20 736.20 h-4.3 M205.20 706.93 h-4.3 M205.20 897.18 h-2.2 M205.20 867.91 h-2.2 M205.20 838.64 h-2.2 M205.20 809.38 h-2.2 M205.20 780.10 h-2.2 M205.20 750.83 h-2.2 M205.20 721.56 h-2.2 M242.50 897.00 v3.8 M298.30 897.00 v3.8 M354.10 897.00 v3.8 M409.90 897.00 v3.8 M465.70 897.00 v3.8 M214.60 897.00 v2 M270.40 897.00 v2 M326.20 897.00 v2 M382.00 897.00 v2 M437.80 897.00 v2 M493.60 897.00 v2" fill="none" stroke="#161616" stroke-width="1"/>
<g class="t" text-anchor="end">
<text x="198.40" y="885.95">0</text>
<text x="198.40" y="856.68">20</text>
<text x="198.40" y="827.41">40</text>
<text x="198.40" y="798.14">60</text>
<text x="198.40" y="768.87">80</text>
<text x="198.40" y="739.60">100</text>
<text x="198.40" y="710.33">120</text>
</g>
<g class="t" text-anchor="middle">
<text x="242.50" y="911.30">0.0</text>
<text x="298.30" y="911.30">1.5</text>
<text x="354.10" y="911.30">3.0</text>
<text x="409.90" y="911.30">4.5</text>
<text x="465.70" y="911.30">6.0</text>
</g>
<text class="l" text-anchor="middle" x="354.00" y="921.60">Is(50) (MPa)</text>
<text class="l" text-anchor="middle" transform="translate(183.90 802.05) rotate(-90)">UCS (MPa)</text>
</g>
</svg>
</body></html>
